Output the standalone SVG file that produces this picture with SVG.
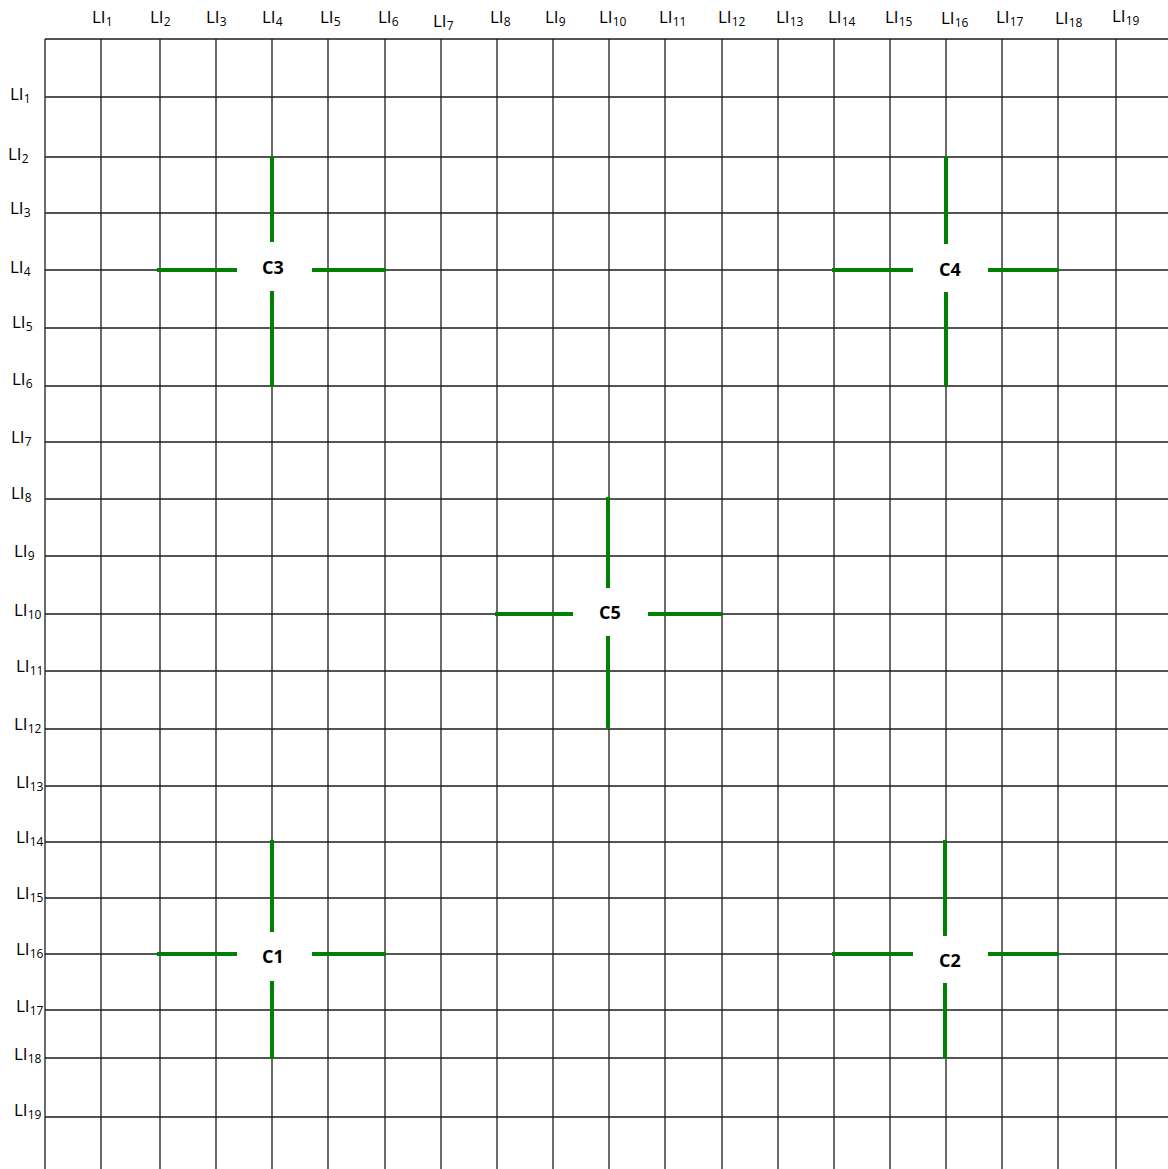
<svg xmlns="http://www.w3.org/2000/svg" width="1168" height="1169" viewBox="0 0 1168 1169">
<style>
.g{stroke:#1c1c1c;stroke-width:1.3;fill:none}
.c{stroke:#008000;stroke-width:4;fill:none;stroke-linecap:butt}
.l{font-family:"Open Sans","Liberation Sans",sans-serif;font-size:17px;fill:#000}
.s{font-size:12px}
.n{font-family:"Open Sans","Liberation Sans",sans-serif;font-size:18px;font-weight:bold;fill:#000;text-anchor:middle}
.bg{fill:#fff;stroke:none}
</style>
<rect width="1168" height="1169" fill="#fff"/>
<g id="grid" class="g">
<path d="M45 39H1168M45 97H1168M45 157H1168M45 213H1168M45 270H1168M45 328H1168M45 386H1168M45 442H1168M45 499H1168M45 556H1168M45 614H1168M45 671H1168M45 729H1168M45 786H1168M45 842H1168M45 898H1168M45 954H1168M45 1010H1168M45 1058H1168M45 1117H1168"/>
<path d="M45 39V1169M101 39V1169M160 39V1169M216 39V1169M272 39V1169M328 39V1169M385 39V1169M441 39V1169M497 39V1169M553 39V1169M609 39V1169M665 39V1169M722 39V1169M778 39V1169M834 39V1169M890 39V1169M946 39V1169M1002 39V1169M1058 39V1169M1116 39V1169"/>
</g>
<g id="top-labels" class="l">
<text x="92" y="23">LI<tspan class="s" dy="3">1</tspan></text>
<text x="150" y="23">LI<tspan class="s" dy="3">2</tspan></text>
<text x="206" y="23">LI<tspan class="s" dy="3">3</tspan></text>
<text x="262" y="23">LI<tspan class="s" dy="3">4</tspan></text>
<text x="320" y="23">LI<tspan class="s" dy="3">5</tspan></text>
<text x="378" y="23">LI<tspan class="s" dy="3">6</tspan></text>
<text x="433" y="27">LI<tspan class="s" dy="3">7</tspan></text>
<text x="490" y="23">LI<tspan class="s" dy="3">8</tspan></text>
<text x="545" y="23">LI<tspan class="s" dy="3">9</tspan></text>
<text x="599" y="23">LI<tspan class="s" dy="3">10</tspan></text>
<text x="659" y="23">LI<tspan class="s" dy="3">11</tspan></text>
<text x="718" y="23">LI<tspan class="s" dy="3">12</tspan></text>
<text x="776" y="23">LI<tspan class="s" dy="3">13</tspan></text>
<text x="828" y="23">LI<tspan class="s" dy="3">14</tspan></text>
<text x="885" y="23">LI<tspan class="s" dy="3">15</tspan></text>
<text x="941" y="24">LI<tspan class="s" dy="3">16</tspan></text>
<text x="996" y="23">LI<tspan class="s" dy="3">17</tspan></text>
<text x="1055" y="24">LI<tspan class="s" dy="3">18</tspan></text>
<text x="1112" y="22">LI<tspan class="s" dy="3">19</tspan></text>
</g>
<g id="left-labels" class="l">
<text x="10" y="100">LI<tspan class="s" dy="3">1</tspan></text>
<text x="8" y="160">LI<tspan class="s" dy="3">2</tspan></text>
<text x="10" y="214">LI<tspan class="s" dy="3">3</tspan></text>
<text x="10" y="273">LI<tspan class="s" dy="3">4</tspan></text>
<text x="12" y="328">LI<tspan class="s" dy="3">5</tspan></text>
<text x="12" y="385">LI<tspan class="s" dy="3">6</tspan></text>
<text x="11" y="443">LI<tspan class="s" dy="3">7</tspan></text>
<text x="11" y="499">LI<tspan class="s" dy="3">8</tspan></text>
<text x="14" y="557">LI<tspan class="s" dy="3">9</tspan></text>
<text x="14" y="616">LI<tspan class="s" dy="3">10</tspan></text>
<text x="16" y="672">LI<tspan class="s" dy="3">11</tspan></text>
<text x="14" y="730">LI<tspan class="s" dy="3">12</tspan></text>
<text x="16" y="788">LI<tspan class="s" dy="3">13</tspan></text>
<text x="16" y="843">LI<tspan class="s" dy="3">14</tspan></text>
<text x="16" y="899">LI<tspan class="s" dy="3">15</tspan></text>
<text x="16" y="955">LI<tspan class="s" dy="3">16</tspan></text>
<text x="16" y="1012">LI<tspan class="s" dy="3">17</tspan></text>
<text x="14" y="1060">LI<tspan class="s" dy="3">18</tspan></text>
<text x="14" y="1116">LI<tspan class="s" dy="3">19</tspan></text>
</g>
<g id="connectors" class="c">
<path d="M272 156V242M272 291V387M157 270H237M312 270H386"/>
<path d="M946 156V244M946 292V386M832 270H913M988 270H1059"/>
<path d="M608 497V588M608 636V729M495 614H573M648 614H722"/>
<path d="M272 840V932M272 981V1059M157 954H237M312 954H386"/>
<path d="M945 840V936M945 983V1059M832 954H913M988 954H1059"/>
</g>
<g id="C3"><rect class="bg" x="237" y="242" width="75" height="49"/><text class="n" x="273" y="274">C3</text></g>
<g id="C4"><rect class="bg" x="913" y="244" width="75" height="48"/><text class="n" x="950" y="276">C4</text></g>
<g id="C5"><rect class="bg" x="573" y="588" width="75" height="48"/><text class="n" x="610" y="619">C5</text></g>
<g id="C1"><rect class="bg" x="237" y="932" width="75" height="49"/><text class="n" x="273" y="963">C1</text></g>
<g id="C2"><rect class="bg" x="913" y="936" width="75" height="47"/><text class="n" x="950" y="967">C2</text></g>
</svg>
